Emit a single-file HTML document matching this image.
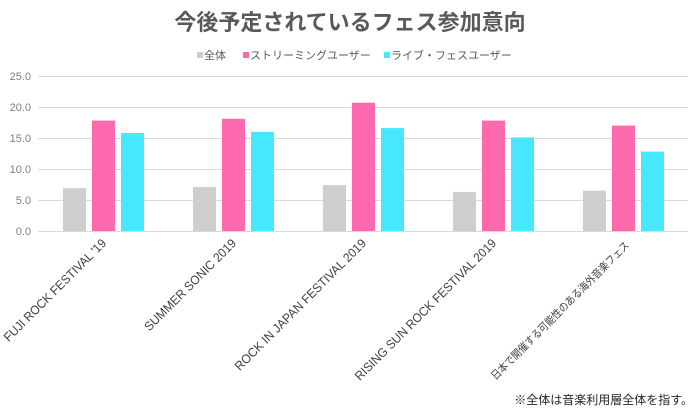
<!DOCTYPE html>
<html><head><meta charset="utf-8"><style>
body{margin:0;background:#fff;width:700px;height:412px;overflow:hidden;font-family:"Liberation Sans","Noto Sans CJK JP",sans-serif}
</style></head><body>
<svg width="700" height="412" xmlns="http://www.w3.org/2000/svg" font-family="Liberation Sans, Noto Sans CJK JP, sans-serif">
<text x="350" y="30" text-anchor="middle" font-size="22" font-weight="bold" fill="#595959">今後予定されているフェス参加意向</text>
<g font-size="11" fill="#595959">
<rect x="197" y="52" width="6" height="6" fill="#cfcdcd"/><text x="204" y="59">全体</text>
<rect x="243" y="52" width="6" height="6" fill="#ff69ae"/><text x="250" y="59">ストリーミングユーザー</text>
<rect x="384" y="52" width="6" height="6" fill="#47e8fd"/><text x="391" y="59">ライブ・フェスユーザー</text>
</g>
<g stroke="#d9d9d9" stroke-width="1">
<line x1="38" x2="688" y1="76.5" y2="76.5"/><line x1="38" x2="688" y1="107.5" y2="107.5"/>
<line x1="38" x2="688" y1="138.5" y2="138.5"/><line x1="38" x2="688" y1="169.5" y2="169.5"/>
<line x1="38" x2="688" y1="200.5" y2="200.5"/><line x1="38" x2="688" y1="231.5" y2="231.5"/>
</g>
<g font-size="11" fill="#7f7f7f" text-anchor="end">
<text x="31" y="80">25.0</text><text x="31" y="111">20.0</text><text x="31" y="142">15.0</text>
<text x="31" y="173">10.0</text><text x="31" y="204">5.0</text><text x="31" y="235">0.0</text>
</g>
<g>
<rect x="63" y="188.2" width="23" height="42.8" fill="#cfcdcd"/>
<rect x="92" y="120.6" width="23" height="110.4" fill="#ff69ae"/>
<rect x="121" y="133.0" width="23" height="98" fill="#47e8fd"/>
<rect x="193" y="187.0" width="23" height="44" fill="#cfcdcd"/>
<rect x="222" y="118.8" width="23" height="112.2" fill="#ff69ae"/>
<rect x="251" y="131.8" width="23" height="99.2" fill="#47e8fd"/>
<rect x="323" y="185.1" width="23" height="45.9" fill="#cfcdcd"/>
<rect x="352" y="102.7" width="23" height="128.3" fill="#ff69ae"/>
<rect x="381" y="128.1" width="23" height="102.9" fill="#47e8fd"/>
<rect x="453" y="191.9" width="23" height="39.1" fill="#cfcdcd"/>
<rect x="482" y="120.6" width="23" height="110.4" fill="#ff69ae"/>
<rect x="511" y="137.4" width="23" height="93.6" fill="#47e8fd"/>
<rect x="583" y="190.7" width="23" height="40.3" fill="#cfcdcd"/>
<rect x="612" y="125.6" width="23" height="105.4" fill="#ff69ae"/>
<rect x="641" y="151.6" width="23" height="79.4" fill="#47e8fd"/>
</g>
<g font-size="12.5" fill="#404040" text-anchor="end" lengthAdjust="spacingAndGlyphs">
<text transform="translate(107,244) rotate(-45)" textLength="139" lengthAdjust="spacingAndGlyphs">FUJI ROCK FESTIVAL '19</text>
<text transform="translate(237,244) rotate(-45)" textLength="124" lengthAdjust="spacingAndGlyphs">SUMMER SONIC 2019</text>
<text transform="translate(367,244) rotate(-45)" textLength="180" lengthAdjust="spacingAndGlyphs">ROCK IN JAPAN FESTIVAL 2019</text>
<text transform="translate(497,244) rotate(-45)" textLength="194" lengthAdjust="spacingAndGlyphs">RISING SUN ROCK FESTIVAL 2019</text>
<text transform="translate(630,246) rotate(-45)" font-size="11" textLength="190" lengthAdjust="spacingAndGlyphs">日本で開催する可能性のある海外音楽フェス</text>
</g>
<text x="693" y="404" text-anchor="end" font-size="12" fill="#262626">※全体は音楽利用層全体を指す。</text>
</svg>
</body></html>
